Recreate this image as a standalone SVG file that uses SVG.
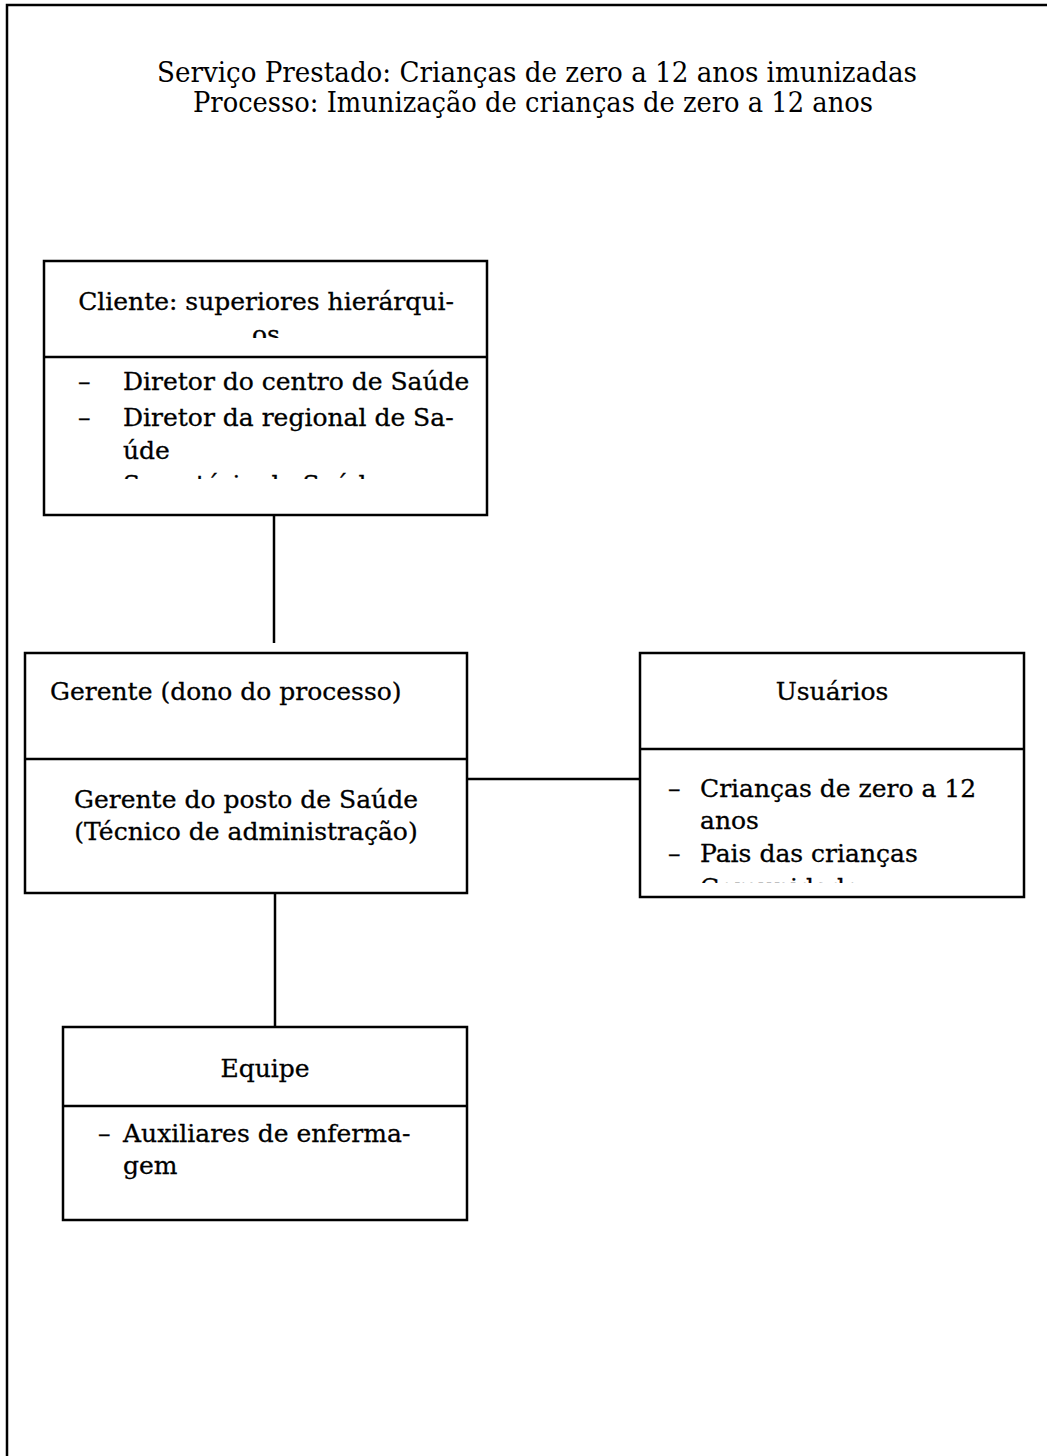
<svg xmlns="http://www.w3.org/2000/svg" width="1047" height="1456" viewBox="0 0 1047 1456">
<style>
.box{fill:#fff;stroke:#000;stroke-width:2.5}
.ln{stroke:#000;stroke-width:2.5;fill:none}
.t{font-family:"DejaVu Serif","Liberation Serif",serif;font-size:25px;fill:#000;stroke:#000;stroke-width:0.3}
.h{font-family:"DejaVu Serif","Liberation Serif",serif;font-size:28px;fill:#000}
.c{text-anchor:middle}
</style>
<defs>
<clipPath id="clipCliHead"><rect x="46" y="262" width="440" height="76"/></clipPath>
<clipPath id="clipCliBody"><rect x="46" y="359" width="440" height="120"/></clipPath>
<clipPath id="clipUsuBody"><rect x="642" y="751" width="380" height="132"/></clipPath>
</defs>
<rect width="1047" height="1456" fill="#fff"/>
<path class="ln" d="M7,1456 V5 H1047" stroke-width="3"/>
<g id="title">
<text class="h c" x="537" y="82" textLength="760" lengthAdjust="spacingAndGlyphs">Serviço Prestado: Crianças de zero a 12 anos imunizadas</text>
<text class="h c" x="533" y="112" textLength="680" lengthAdjust="spacingAndGlyphs">Processo: Imunização de crianças de zero a 12 anos</text>
</g>
<g id="connectors">
<line class="ln" x1="274" y1="510" x2="274" y2="643"/>
<line class="ln" x1="467" y1="779" x2="640" y2="779"/>
<line class="ln" x1="275" y1="893" x2="275" y2="1027"/>
</g>
<g id="cliente">
<rect class="box" x="44" y="261" width="443" height="254"/>
<line class="ln" x1="44" y1="357" x2="487" y2="357"/>
<g clip-path="url(#clipCliHead)">
<text class="t c" x="266" y="310">Cliente: superiores hierárqui-</text>
<text class="t c" x="266" y="343">os</text>
</g>
<g clip-path="url(#clipCliBody)">
<text class="t" x="78" y="390">–</text><text class="t" x="123" y="390">Diretor do centro de Saúde</text>
<text class="t" x="78" y="426">–</text><text class="t" x="123" y="426">Diretor da regional de Sa-</text>
<text class="t" x="123" y="459">úde</text>
<text class="t" x="78" y="493">–</text><text class="t" x="123" y="493">Secretário da Saúde</text>
</g>
</g>
<g id="gerente">
<rect class="box" x="25" y="653" width="442" height="240"/>
<line class="ln" x1="25" y1="759" x2="467" y2="759"/>
<text class="t" x="50" y="700">Gerente (dono do processo)</text>
<text class="t c" x="246" y="808">Gerente do posto de Saúde</text>
<text class="t c" x="246" y="840">(Técnico de administração)</text>
</g>
<g id="usuarios">
<rect class="box" x="640" y="653" width="384" height="244"/>
<line class="ln" x1="640" y1="749" x2="1024" y2="749"/>
<text class="t c" x="832" y="700">Usuários</text>
<g clip-path="url(#clipUsuBody)">
<text class="t" x="668" y="797">–</text><text class="t" x="700" y="797">Crianças de zero a 12</text>
<text class="t" x="700" y="829">anos</text>
<text class="t" x="668" y="862">–</text><text class="t" x="700" y="862">Pais das crianças</text>
<text class="t" x="668" y="896">–</text><text class="t" x="700" y="896">Comunidade</text>
</g>
</g>
<g id="equipe">
<rect class="box" x="63" y="1027" width="404" height="193"/>
<line class="ln" x1="63" y1="1106" x2="467" y2="1106"/>
<text class="t c" x="265" y="1077">Equipe</text>
<text class="t" x="98" y="1142">–</text><text class="t" x="123" y="1142">Auxiliares de enferma-</text>
<text class="t" x="123" y="1174">gem</text>
</g>
</svg>
